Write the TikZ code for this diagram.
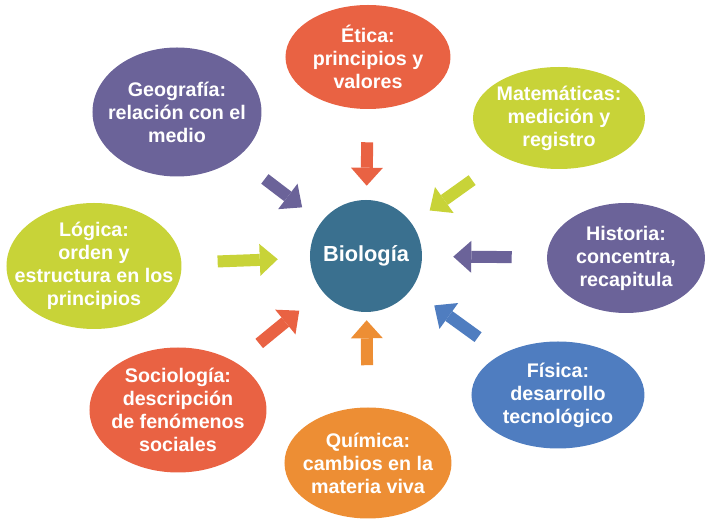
\documentclass[tikz,border=0pt]{standalone}
\usepackage{fontspec}
\setmainfont{Liberation Sans}
\definecolor{biored}{RGB}{233,98,67}
\definecolor{biogreen}{RGB}{200,211,56}
\definecolor{biopurple}{RGB}{107,99,153}
\definecolor{bioblue}{RGB}{79,125,192}
\definecolor{bioorange}{RGB}{237,142,52}
\definecolor{bioteal}{RGB}{58,112,143}
\usetikzlibrary{arrows.meta,shapes.geometric}

\begin{document}
\begin{tikzpicture}[
    area/.style={ellipse,inner sep=0pt},
    rotulo/.style={text=white,align=center,inner sep=0pt,
                   font=\fontsize{14}{16.4}\selectfont\bfseries},
    flecha/.style={line width=0.3cm,
                   -{Triangle[width=0.8cm,length=0.45cm,line width=0pt]}}]
  \useasboundingbox (-9.15,-6.625) rectangle (8.65,6.4);

  %% Centre
  \node[circle,fill=bioteal,minimum size=2.8cm,inner sep=0pt,text=white,
        font=\fontsize{15.5}{18}\selectfont\bfseries] (bio) at (0,0) {Biología};

  %% Surrounding areas
  \node[area,fill=biored,minimum width=4.125cm,minimum height=2.6cm,
        label={[rotulo]center:{Ética:\\principios y\\valores}}]
        (etica) at (0.05,4.975) {};
  \node[area,fill=biogreen,minimum width=4.3cm,minimum height=2.55cm,
        label={[rotulo]center:{Matemáticas:\\medición y\\registro}}]
        (mate) at (4.825,3.45) {};
  \node[area,fill=biopurple,minimum width=3.95cm,minimum height=2.75cm,
        label={[rotulo]center:{Historia:\\concentra,\\recapitula}}]
        (hist) at (6.5,-0.05) {};
  \node[area,fill=bioblue,minimum width=4.325cm,minimum height=2.675cm,
        label={[rotulo]center:{Física:\\desarrollo\\tecnológico}}]
        (fisi) at (4.8,-3.475) {};
  \node[area,fill=bioorange,minimum width=4.175cm,minimum height=2.775cm,
        label={[rotulo]center:{Química:\\cambios en la\\materia viva}}]
        (quim) at (0.05,-5.175) {};
  \node[area,fill=biored,minimum width=4.425cm,minimum height=3.125cm,
        label={[rotulo]center:{Sociología:\\descripción\\de fenómenos\\sociales}}]
        (soci) at (-4.7,-3.85) {};
  \node[area,fill=biogreen,minimum width=4.375cm,minimum height=3.15cm,
        label={[rotulo]center:{Lógica:\\orden y\\estructura en los\\principios}}]
        (logi) at (-6.8,-0.25) {};
  \node[area,fill=biopurple,minimum width=4.225cm,minimum height=3.225cm,
        label={[rotulo]center:{Geografía:\\relación con el\\medio}}]
        (geog) at (-4.725,3.6) {};

  %% Arrows
  \draw[flecha,biored,shorten <=0.825cm,shorten >=0.35cm] (etica) -- (bio);
  \draw[flecha,biogreen,shorten <=0.975cm,shorten >=0.55cm] (mate) -- (bio);
  \draw[flecha,biopurple,shorten <=0.875cm,shorten >=0.775cm] (hist) -- (bio);
  \draw[flecha,bioblue,shorten <=0.725cm,shorten >=0.7cm] (fisi) -- (bio);
  \draw[flecha,bioorange,shorten <=1.05cm,shorten >=0.2cm] (quim) -- (bio);
  \draw[flecha,biored,shorten <=0.75cm,shorten >=0.75cm] (soci) -- (bio);
  \draw[flecha,biogreen,shorten <=0.9cm,shorten >=0.8cm] (logi) -- (bio);
  \draw[flecha,biopurple,shorten <=0.875cm,shorten >=0.6cm] (geog) -- (bio);
\end{tikzpicture}
\end{document}
